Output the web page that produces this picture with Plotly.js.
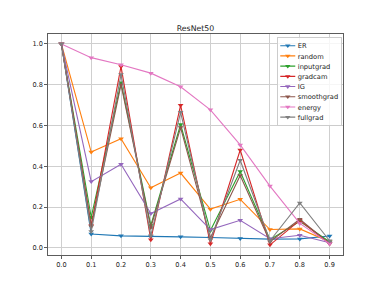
<!DOCTYPE html>
<html>
<head>
<meta charset="utf-8">
<script src="https://cdn.plot.ly/plotly-3.0.1.min.js"></script>
<style>html,body{margin:0;padding:0;background:#fff;}#chart{width:382px;height:287px;}</style>
</head>
<body>
<div id="chart"></div>
<script>
const xTicks = [0.0, 0.1, 0.2, 0.3, 0.4, 0.5, 0.6, 0.7, 0.8, 0.9];
const xTickLabels = ["0.0","0.1","0.2","0.3","0.4","0.5","0.6","0.7","0.8","0.9"];
const yTicks = [0, 0.2, 0.4, 0.6, 0.8, 1.0];
const yTickLabels = ["0.0","0.2","0.4","0.6","0.8","1.0"];
const seriesNames = ["ER","random","inputgrad","gradcam","IG","smoothgrad","energy","fullgrad"];
const seriesColors = ["#1f77b4","#ff7f0e","#2ca02c","#d62728","#9467bd","#8c564b","#e377c2","#7f7f7f"];
const ER         = [1.0, 0.068, 0.059, 0.055, 0.054, 0.051, 0.046, 0.043, 0.044, 0.058];
const random     = [1.0, 0.470, 0.535, 0.295, 0.367, 0.190, 0.238, 0.090, 0.093, 0.030];
const inputgrad  = [1.0, 0.150, 0.810, 0.110, 0.605, 0.085, 0.375, 0.040, 0.130, 0.030];
const gradcam    = [1.0, 0.110, 0.890, 0.040, 0.700, 0.020, 0.480, 0.015, 0.135, 0.020];
const IG         = [1.0, 0.325, 0.410, 0.168, 0.240, 0.090, 0.135, 0.045, 0.062, 0.025];
const smoothgrad = [1.0, 0.105, 0.800, 0.100, 0.590, 0.050, 0.355, 0.030, 0.140, 0.020];
const energy     = [1.0, 0.933, 0.898, 0.857, 0.790, 0.677, 0.505, 0.303, 0.120, 0.020];
const fullgrad   = [1.0, 0.080, 0.850, 0.060, 0.665, 0.040, 0.430, 0.035, 0.220, 0.035];
const seriesValues = [ER, random, inputgrad, gradcam, IG, smoothgrad, energy, fullgrad];

const traces = seriesNames.map((n, i) => ({
  x: xTicks, y: seriesValues[i], name: n, type: 'scatter', mode: 'lines+markers',
  line: {color: seriesColors[i], width: 1.1},
  marker: {symbol: 'triangle-down', size: 5, color: seriesColors[i]}
}));

const FF = 'DejaVu Sans, sans-serif';
const tickFont = {family: FF, size: 6.6, color: '#222'};
const LEGEND_SCALE = 0.5;
const LEGEND_POS = {x: 0.7755, y: 0.986};
const layout = {
  width: 382, height: 287,
  margin: {l: 47.7, r: 39, t: 34.3, b: 31.7, pad: 0},
  paper_bgcolor: '#fff', plot_bgcolor: '#fff',
  font: {family: FF, size: 6.6, color: '#222'},
  title: {text: 'ResNet50', font: {family: FF, size: 7.8, color: '#222'}, x: 0.5, xref: 'paper', y: 1, yref: 'paper', yanchor: 'bottom', pad: {b: 3}},
  showlegend: true,
  legend: {x: 0, y: 1, xanchor: 'left', yanchor: 'top', bgcolor: 'rgba(255,255,255,0.8)', bordercolor: '#cccccc', borderwidth: 2, font: {family: FF, size: 13.4, color: '#222'}, tracegroupgap: 0, itemwidth: 30},
  xaxis: {range: [-0.045, 0.945], tickvals: xTicks, ticktext: xTickLabels, showgrid: true, gridcolor: '#cfcfcf', gridwidth: 1, zeroline: false, showline: true, linecolor: '#333', linewidth: 0.8, mirror: true, ticks: 'outside', ticklen: 3, tickwidth: 0.8, tickcolor: '#333', tickfont: tickFont},
  yaxis: {range: [-0.035, 1.049], tickvals: yTicks, ticktext: yTickLabels, showgrid: true, gridcolor: '#cfcfcf', gridwidth: 1, zeroline: false, showline: true, linecolor: '#333', linewidth: 0.8, mirror: true, ticks: 'outside', ticklen: 3, tickwidth: 0.8, tickcolor: '#333', tickfont: tickFont}
};
Plotly.newPlot('chart', traces, layout, {staticPlot: true, displayModeBar: false}).then(function (gd) {
  const lg = gd.querySelector('g.legend');
  const s = gd._fullLayout._size;
  if (lg) {
    const px = s.l + LEGEND_POS.x * s.w;
    const py = s.t + (1 - LEGEND_POS.y) * s.h;
    lg.setAttribute('transform', 'translate(' + px + ',' + py + ') scale(' + LEGEND_SCALE + ')');
    lg.querySelectorAll('.legendlines path').forEach(function (p) { p.style.strokeWidth = '2.2px'; });
    lg.querySelectorAll('.legendpoints path').forEach(function (p) {
      const t = p.getAttribute('transform') || '';
      p.setAttribute('transform', t + ' scale(1.9)');
    });
  }
});
</script>
</body>
</html>
